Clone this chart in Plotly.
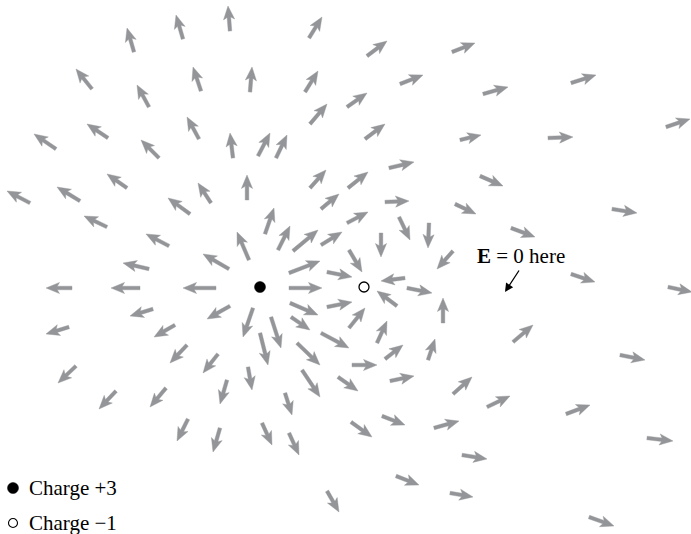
import numpy as np
import plotly.graph_objects as go

# Field sample points (tail of each arrow) and field direction vectors.
# Coordinates are measured from the +3 charge, y upward, in picture units.
tail_x = [-126, -77, -30, -168, -111, -59, -204, -152, -101, -61, -27, -133,
          49, 107, 192, -10, 45, 140, 87, 50, 105, -2, 16, 200, 129,
          223, 311, 406, 288, 220,
          -230, -180, -70, -49, -153, -91, -31, -111, -188, -120, -44, -107,
          -191, -30, -85, -73, -42,
          -13, 50, 88, 61, 125, 195, 5, 87, 139, -11, 18, 33, 61, 121, 169,
          193, 89, 29, 67, 29, 145, 147, 137, 30, 67, 183, -7, 11, 31, 89,
          61, 117, 125, 168, 0, 37,
          -12, 42, 78, 92, 130, 193, 25, 122, 91, 174, 2, 29, 136, 190, 67,
          227, 306, 387, 202, 329, 360, 352, 251, 311, 408, 253,
          -184, -144, -94, -72, -40, -33]
tail_y = [235, 248, 256, 198, 180, 196, 138, 149, 129, 148, 129, 99,
          249, 231, 235, 195, 195, 203, 180, 163, 148, 131, 129, 147, 119,
          193, 204, 160, 149, 111,
          84, 86, 73, 84, 60, 41, 18, 18, -1, -1, -1, -22,
          -40, -19, -38, -58, -67,
          87, 99, 99, 78, 85, 83, 53, 64, 70, 27, 37, 36, 42, 54, 64,
          36, 37, 14, 15, -1, 9, -1, -19, -16, -20, -36, -21, -30, -30, -41,
          -46, -56, -72, -73, -46, -56,
          -80, -83, -90, -78, -94, -107, -106, -129, -135, -141, -136, -146,
          -189, -206, -204,
          -120, -127, -151, -168, -230, -68, 78, 59, 13, 0, -55,
          -79, -104, -101, -132, -141, -93]
field_u = [-7, -7, -2, -16, -12, -8, -22, -21, -18, -12, -3, -20,
           13, 20, 23, 2, 13, 23, 20, 17, 20, 12, 11, 21, 25,
           25, 25, 24, 25, 23,
           -23, -23, -22, -13, -23, -23, -26, -26, -26, -29, -33, -23,
           -23, -23, -21, -17, -15,
           0, 16, 20, 18, 24, 21, 9, 21, 11, -12, 12, 25, 21, 0, -1,
           -16, 13, 31, 25, 33, -24, 25, -20, 28, 25, 0, -10, 10, 19, 16,
           28, 10, 18, 7, 8, 23,
           4, 18, 20, 25, 24, 19, 7, 23, 21, 25, 10, 10, 23, 23, 12,
           23, 24, 26, 25, 25, 25, 25, 24, 24, 24, 20,
           -18, -17, -16, -11, -7, -7]
field_v = [24, 24, 25, 20, 22, 24, 15, 14, 18, 22, 25, 14,
           21, 15, 9, 25, 21, 9, 14, 20, 15, 23, 23, 5, 6,
           7, 8, 8, 1, -10,
           12, 14, 16, 20, 11, 12, 15, 6, 0, 0, 0, -7,
           -7, -13, -12, -18, -19,
           25, 18, 16, 15, 1, -10, 26, 11, -23, 28, 24, 21, 13, -24, -25,
           -18, -22, 12, -5, 0, -3, -5, 15, -12, 5, 25, -29, -31, -13, 20,
           -15, 22, 14, 21, -32, -22,
           -23, -27, -14, 0, 5, 17, -22, -9, -15, 7, -22, -22, -9, -4, -21,
           11, 9, -3, -4, -9, -5, -4, -9, -8, -5, 17,
           -17, -18, -19, -22, -24, -24]

# Charges
charge_x = [0, 104]
charge_y = [0, 0]
charge_q = ["+3", "\u22121"]

# Zero-field note
note_text = "<b>E</b> = 0 here"
note_x, note_y = 261, 31
note_arrow_tail = (260, 18)
note_arrow_head = (245, -5)

# Legend
legend_labels = ["Charge +3", "Charge \u22121"]
legend_x = [-247, -247]
legend_y = [-201, -236]

ARROW_GRAY = "#939598"
HEAD_LEN, HEAD_HALF, SHAFT_HALF, NOTCH = 13.5, 5.6, 1.8, 2.2

px, py = [], []
for tx, ty, u, v in zip(tail_x, tail_y, field_u, field_v):
    L = float(np.hypot(u, v))
    dx, dy = u / L, v / L
    nx, ny = -dy, dx
    b = L - HEAD_LEN
    pts = [
        (tx + nx * SHAFT_HALF, ty + ny * SHAFT_HALF),
        (tx + dx * (b + NOTCH) + nx * SHAFT_HALF, ty + dy * (b + NOTCH) + ny * SHAFT_HALF),
        (tx + dx * b + nx * HEAD_HALF, ty + dy * b + ny * HEAD_HALF),
        (tx + dx * L, ty + dy * L),
        (tx + dx * b - nx * HEAD_HALF, ty + dy * b - ny * HEAD_HALF),
        (tx + dx * (b + NOTCH) - nx * SHAFT_HALF, ty + dy * (b + NOTCH) - ny * SHAFT_HALF),
        (tx - nx * SHAFT_HALF, ty - ny * SHAFT_HALF),
    ]
    pts.append(pts[0])
    for a, c in pts:
        px.append(a)
        py.append(c)
    px.append(None)
    py.append(None)

fig = go.Figure()
fig.add_trace(go.Scatter(x=px, y=py, mode="lines", fill="toself",
                         fillcolor=ARROW_GRAY,
                         line=dict(color=ARROW_GRAY, width=0.4),
                         hoverinfo="skip", showlegend=False))

# charges
fig.add_trace(go.Scatter(x=charge_x, y=charge_y, mode="markers",
                         marker=dict(size=[11, 10], color=["#000000", "#ffffff"],
                                     opacity=1,
                                     line=dict(color="#000000", width=[0.5, 1.3])),
                         text=charge_q, hoverinfo="text", showlegend=False))

# legend symbols
fig.add_trace(go.Scatter(x=legend_x, y=legend_y, mode="markers",
                         marker=dict(size=[11, 9], color=["#000000", "#ffffff"],
                                     opacity=1,
                                     line=dict(color="#000000", width=[0.5, 1.1])),
                         hoverinfo="skip", showlegend=False))

SERIF = "Liberation Serif, Times New Roman, serif"
for lx, ly, lab in zip(legend_x, legend_y, legend_labels):
    fig.add_annotation(x=lx + 14, y=ly, text=lab, showarrow=False,
                       xanchor="left", yanchor="middle",
                       font=dict(family=SERIF, size=21, color="black"))

fig.add_annotation(x=note_x, y=note_y, text=note_text, showarrow=False,
                   xanchor="center", yanchor="middle",
                   font=dict(family=SERIF, size=21, color="black"))
fig.add_annotation(x=note_arrow_head[0], y=note_arrow_head[1],
                   ax=note_arrow_tail[0], ay=note_arrow_tail[1],
                   xref="x", yref="y", axref="x", ayref="y", text="",
                   showarrow=True, arrowhead=2, arrowsize=1.3, arrowwidth=1.3,
                   arrowcolor="black")

fig.update_xaxes(range=[-260, 431], visible=False, fixedrange=True)
fig.update_yaxes(range=[-247, 287], visible=False, fixedrange=True)
fig.update_layout(width=691, height=534, margin=dict(l=0, r=0, t=0, b=0),
                  plot_bgcolor="white", paper_bgcolor="white")

fig.write_html("out.html", config={"displayModeBar": False},
               post_script="document.body.style.margin='0';"
                           "document.body.style.overflow='hidden';")
